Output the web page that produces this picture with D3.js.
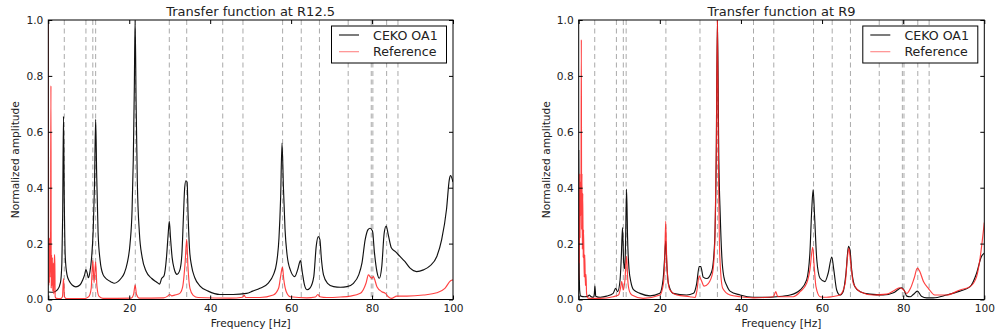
<!DOCTYPE html>
<html>
<head>
<meta charset="utf-8">
<script src="https://cdn.jsdelivr.net/npm/d3@7"></script>
<style>
  html, body { margin: 0; padding: 0; background: #fff; }
  svg text { font-family: "DejaVu Sans", sans-serif; fill: #222; }
</style>
</head>
<body>
<svg id="chart" width="995" height="336"></svg>
<script>
// Frequency axis ticks and amplitude ticks
const xTicks = [0, 20, 40, 60, 80, 100];
const yTicks = [0, 0.2, 0.4, 0.6, 0.8, 1.0];

// Modal frequencies marked with dashed guides (Hz)
const modeFreqs = [3.95, 9.3, 11.0, 11.7, 21.5, 29.9, 34.2, 43.1, 48.1, 57.9, 62.5, 67.0, 74.1, 79.8, 80.2, 83.6, 86.4];

const seriesNames = ["CEKO OA1", "Reference"];
const panelTitles = ["Transfer function at R12.5", "Transfer function at R9"];

// [frequency Hz, normalized amplitude]
const cekoR125 = [[0,0.027],[1.2,0.026],[2.3,0.035],[3.0,0.06],[3.35,0.13],[3.55,0.3],[3.75,0.655],[3.95,0.35],[4.2,0.15],[4.6,0.09],[5.2,0.065],[5.9,0.052],[6.8,0.045],[7.8,0.052],[8.5,0.07],[9.0,0.09],[9.3,0.107],[9.6,0.095],[9.9,0.078],[10.3,0.1],[10.7,0.15],[11.1,0.25],[11.4,0.4],[11.7,0.645],[11.95,0.45],[12.3,0.24],[12.8,0.14],[13.5,0.09],[14.5,0.072],[15.5,0.063],[16.3,0.058],[17.2,0.064],[18.0,0.076],[18.8,0.095],[19.5,0.13],[20.2,0.2],[20.7,0.32],[21.0,0.5],[21.25,0.75],[21.45,1.0],[21.7,0.7],[22.0,0.42],[22.5,0.24],[23.2,0.15],[24.2,0.1],[25.5,0.076],[26.8,0.062],[27.5,0.055],[28.0,0.075],[28.6,0.085],[29.2,0.15],[29.6,0.23],[29.9,0.28],[30.2,0.22],[30.6,0.15],[31.1,0.11],[31.8,0.09],[32.5,0.105],[33.0,0.16],[33.4,0.3],[33.7,0.4],[34.0,0.425],[34.3,0.42],[34.55,0.3],[34.9,0.18],[35.4,0.12],[36.2,0.078],[37.5,0.048],[39.5,0.03],[42.4,0.018],[45.7,0.018],[49.0,0.022],[50.5,0.03],[52.3,0.04],[54.3,0.058],[55.6,0.088],[56.4,0.13],[57.0,0.22],[57.4,0.36],[57.75,0.56],[58.1,0.4],[58.5,0.25],[59.0,0.16],[59.8,0.106],[60.9,0.082],[61.6,0.106],[62.3,0.139],[62.8,0.094],[63.3,0.052],[63.9,0.035],[64.7,0.042],[65.6,0.082],[66.2,0.19],[66.7,0.225],[67.1,0.215],[67.5,0.142],[68.0,0.088],[69.0,0.058],[70.5,0.046],[72.2,0.044],[73.8,0.046],[75.4,0.058],[76.7,0.088],[77.5,0.13],[78.3,0.214],[79.0,0.25],[79.5,0.255],[80.1,0.245],[80.6,0.166],[81.2,0.1],[81.8,0.076],[82.4,0.118],[83.0,0.238],[83.5,0.263],[84.0,0.232],[84.8,0.184],[85.7,0.172],[86.9,0.154],[88.1,0.136],[89.4,0.112],[91.0,0.1],[92.7,0.106],[94.3,0.12],[96.0,0.154],[97.2,0.214],[98.4,0.323],[99.1,0.43],[99.4,0.443],[100,0.42]];

const refR125 = [[0,1.0],[0.12,0.05],[0.2,0.2],[0.27,0.06],[0.35,0.22],[0.45,0.08],[0.55,0.15],[0.65,0.765],[0.72,0.04],[0.8,0.16],[0.9,0.05],[1.0,0.15],[1.1,0.03],[1.25,0.13],[1.35,0.02],[1.5,0.16],[1.6,0.16],[1.7,0.01],[2.0,0.004],[3.0,0.003],[3.5,0.01],[3.75,0.075],[4.0,0.01],[4.5,0.003],[9.0,0.003],[10.0,0.01],[10.6,0.04],[11.0,0.14],[11.3,0.06],[11.7,0.135],[12.0,0.05],[12.5,0.012],[13.5,0.004],[20.5,0.005],[21.1,0.02],[21.45,0.052],[21.8,0.018],[22.5,0.005],[28.5,0.006],[29.5,0.012],[30.0,0.018],[30.5,0.013],[31.5,0.017],[32.5,0.022],[33.2,0.045],[33.8,0.13],[34.2,0.215],[34.5,0.12],[35.0,0.04],[35.8,0.015],[37.0,0.007],[45,0.005],[48.0,0.008],[48.4,0.015],[48.8,0.007],[52.3,0.007],[55.6,0.016],[56.9,0.04],[57.4,0.082],[57.85,0.116],[58.2,0.07],[58.8,0.028],[59.8,0.01],[63.9,0.006],[66.0,0.009],[66.6,0.018],[67.1,0.01],[68.8,0.007],[72.2,0.009],[74.6,0.012],[77.1,0.022],[78.5,0.058],[79.1,0.088],[79.6,0.08],[80.0,0.076],[80.3,0.082],[81.2,0.046],[82.4,0.028],[83.3,0.022],[84.0,0.01],[84.8,0.004],[86.1,0.012],[88.6,0.012],[92.7,0.016],[96.0,0.024],[98.0,0.04],[99.4,0.067],[100,0.07]];

const cekoR9 = [[0,0.535],[0.12,0.12],[0.25,0.03],[0.5,0.012],[1.5,0.01],[2.3,0.012],[2.6,0.016],[3.0,0.011],[3.6,0.008],[3.85,0.02],[4.0,0.048],[4.2,0.012],[5.3,0.008],[6.9,0.012],[8.5,0.022],[9.1,0.04],[9.6,0.028],[10.2,0.07],[10.5,0.15],[10.8,0.257],[11.1,0.13],[11.35,0.11],[11.55,0.2],[11.8,0.395],[12.05,0.22],[12.4,0.11],[12.9,0.06],[13.5,0.035],[15.1,0.022],[17.6,0.013],[20.0,0.022],[20.8,0.07],[21.15,0.14],[21.45,0.21],[21.75,0.12],[22.1,0.058],[23.3,0.022],[26.6,0.016],[28.3,0.022],[29.1,0.058],[29.7,0.118],[30.1,0.118],[30.7,0.08],[31.6,0.075],[32.8,0.1],[33.5,0.2],[33.9,0.5],[34.2,1.0],[34.55,0.5],[34.9,0.3],[35.3,0.15],[35.8,0.08],[36.5,0.05],[37.3,0.03],[39.8,0.016],[43.1,0.008],[46.3,0.008],[48.8,0.01],[52.1,0.016],[54.6,0.034],[56.2,0.07],[57.0,0.166],[57.45,0.32],[57.8,0.393],[58.15,0.3],[58.7,0.142],[59.5,0.076],[60.7,0.064],[61.5,0.094],[62.4,0.152],[62.9,0.106],[63.6,0.034],[64.4,0.016],[65.2,0.028],[65.9,0.094],[66.5,0.19],[66.9,0.175],[67.3,0.106],[68.1,0.046],[69.4,0.028],[71.8,0.019],[75.1,0.016],[77.6,0.024],[78.8,0.036],[79.6,0.042],[80.2,0.034],[80.9,0.012],[81.7,0.01],[82.5,0.018],[83.5,0.03],[84.5,0.012],[85.8,0.006],[87.4,0.006],[90.7,0.016],[94.0,0.03],[96.5,0.046],[98.1,0.094],[99.3,0.154],[100,0.166]];

const refR9 = [[0,0.07],[0.08,0.3],[0.16,0.13],[0.25,0.45],[0.33,0.22],[0.42,0.42],[0.55,0.3],[0.65,0.93],[0.72,0.25],[0.8,0.45],[0.9,0.18],[1.0,0.38],[1.1,0.15],[1.2,0.25],[1.35,0.08],[1.5,0.16],[1.65,0.05],[1.8,0.09],[1.95,0.02],[2.3,0.005],[3.6,0.004],[5.3,0.004],[8.5,0.01],[9.8,0.016],[10.3,0.04],[10.6,0.064],[11.0,0.034],[11.4,0.07],[11.8,0.155],[12.1,0.07],[12.5,0.03],[13.1,0.016],[15.9,0.004],[20.0,0.016],[20.9,0.058],[21.2,0.14],[21.45,0.28],[21.7,0.14],[22.0,0.07],[22.5,0.034],[24.2,0.016],[27.4,0.01],[28.7,0.007],[29.1,0.028],[29.7,0.084],[30.2,0.07],[30.9,0.048],[32.0,0.058],[33.0,0.094],[33.6,0.22],[33.95,0.55],[34.2,1.0],[34.45,0.5],[34.8,0.15],[35.5,0.04],[37.3,0.016],[39.8,0.01],[43.1,0.006],[48.0,0.01],[48.6,0.028],[49.0,0.012],[49.6,0.01],[52.9,0.01],[54.6,0.028],[56.2,0.058],[57.0,0.106],[57.7,0.187],[58.0,0.13],[58.5,0.046],[59.5,0.01],[61.1,0.008],[62.4,0.01],[64.4,0.016],[65.7,0.058],[66.2,0.142],[66.6,0.184],[67.0,0.14],[67.7,0.058],[69.4,0.028],[72.6,0.016],[75.9,0.019],[78.0,0.034],[79.2,0.042],[80.0,0.036],[80.9,0.022],[81.8,0.04],[82.7,0.076],[83.5,0.112],[84.1,0.1],[85.0,0.064],[86.2,0.04],[87.8,0.016],[90.7,0.016],[94.0,0.034],[96.5,0.046],[98.1,0.082],[98.9,0.142],[100,0.275]];

const svg = d3.select("#chart");
const colors = { ceko: "#111", ref: "#ff2020" };

const panels = [
  { left: 48.3, right: 453, title: panelTitles[0], ceko: cekoR125, ref: refR125 },
  { left: 578.7, right: 984.3, title: panelTitles[1], ceko: cekoR9, ref: refR9 }
];
const plotTop = 20, plotBottom = 299.5;

panels.forEach((p, i) => {
  const x = d3.scaleLinear().domain([0, 100]).range([p.left, p.right]);
  const y = d3.scaleLinear().domain([0, 1]).range([plotBottom, plotTop]);
  const g = svg.append("g");

  const clipId = "clip" + i;
  svg.append("defs").append("clipPath").attr("id", clipId)
    .append("rect").attr("x", p.left).attr("y", plotTop)
    .attr("width", p.right - p.left).attr("height", plotBottom - plotTop);

  // dashed guides at the mode frequencies
  g.append("g").selectAll("line").data(modeFreqs).join("line")
    .attr("x1", d => x(d)).attr("x2", d => x(d))
    .attr("y1", plotTop).attr("y2", plotBottom)
    .attr("stroke", "#aaa").attr("stroke-width", 1)
    .attr("stroke-dasharray", "5,3.5");

  const line = d3.line().x(d => x(d[0])).y(d => y(d[1])).curve(d3.curveMonotoneX);
  const curves = g.append("g").attr("clip-path", `url(#${clipId})`);
  curves.append("path").datum(p.ceko).attr("d", line)
    .attr("fill", "none").attr("stroke", colors.ceko).attr("stroke-width", 1.15);
  curves.append("path").datum(p.ref).attr("d", line)
    .attr("fill", "none").attr("stroke", colors.ref).attr("stroke-width", 1.15)
    .attr("stroke-opacity", 0.85);

  // axes with inward ticks on all four sides
  const fmtY = d3.format(".1f");
  const axB = g.append("g").attr("transform", `translate(0,${plotBottom})`)
    .call(d3.axisBottom(x).tickValues(xTicks).tickSizeInner(-4).tickSizeOuter(0).tickPadding(5));
  const axT = g.append("g").attr("transform", `translate(0,${plotTop})`)
    .call(d3.axisTop(x).tickValues(xTicks).tickSizeInner(-4).tickSizeOuter(0).tickFormat(""));
  const axL = g.append("g").attr("transform", `translate(${p.left},0)`)
    .call(d3.axisLeft(y).tickValues(yTicks).tickFormat(fmtY).tickSizeInner(-4).tickSizeOuter(0).tickPadding(5));
  const axR = g.append("g").attr("transform", `translate(${p.right},0)`)
    .call(d3.axisRight(y).tickValues(yTicks).tickSizeInner(-4).tickSizeOuter(0).tickFormat(""));
  [axB, axT, axL, axR].forEach(a => {
    a.select(".domain").remove();
    a.selectAll("line").attr("stroke", "#000");
    a.selectAll("text").attr("font-size", "10.6px").attr("font-family", "DejaVu Sans").attr("fill", "#222");
  });

  g.append("rect").attr("x", p.left).attr("y", plotTop)
    .attr("width", p.right - p.left).attr("height", plotBottom - plotTop)
    .attr("fill", "none").attr("stroke", "#000").attr("stroke-width", 1);

  g.append("text").attr("x", (p.left + p.right) / 2).attr("y", 16)
    .attr("text-anchor", "middle").attr("font-size", "13px").text(p.title);
  g.append("text").attr("x", (p.left + p.right) / 2).attr("y", 327)
    .attr("text-anchor", "middle").attr("font-size", "10.6px").text("Frequency [Hz]");
  g.append("text").attr("transform", `translate(${p.left - 29},${(plotTop + plotBottom) / 2}) rotate(-90)`)
    .attr("text-anchor", "middle").attr("font-size", "10.6px").text("Normalized amplitude");

  // legend
  const lx = p.right - 6.5 - 115, ly = 26;
  const lg = g.append("g");
  lg.append("rect").attr("x", lx).attr("y", ly).attr("width", 115).attr("height", 37)
    .attr("fill", "#fff").attr("stroke", "#000").attr("stroke-width", 1);
  const items = [{ name: seriesNames[0], c: colors.ceko, o: 1 }, { name: seriesNames[1], c: colors.ref, o: 0.55 }];
  items.forEach((it, k) => {
    const yy = ly + 9 + k * 16.7;
    lg.append("line").attr("x1", lx + 7.5).attr("x2", lx + 27.5).attr("y1", yy).attr("y2", yy)
      .attr("stroke", it.c).attr("stroke-width", 1.1).attr("stroke-opacity", it.o);
    lg.append("text").attr("x", lx + 41.6).attr("y", yy + 4.5).attr("font-size", "12.6px").text(it.name);
  });
});
</script>
</body>
</html>
